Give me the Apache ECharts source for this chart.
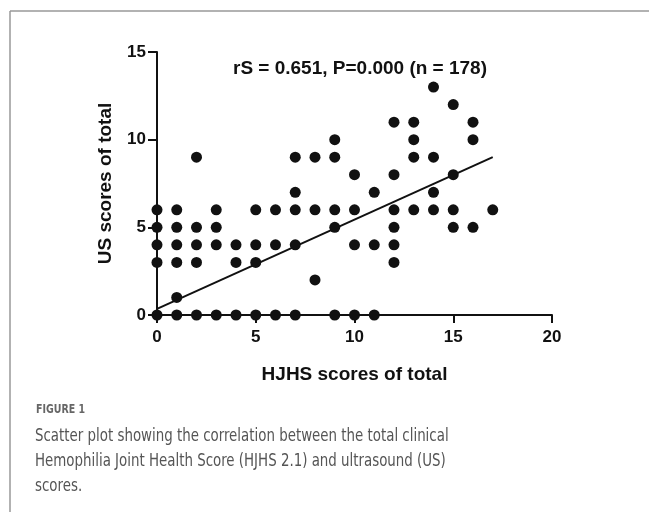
<!DOCTYPE html>
<html>
<head>
<meta charset="utf-8">
<script src="https://cdn.jsdelivr.net/npm/echarts@6/dist/echarts.min.js"></script>
<style>
  * { margin: 0; padding: 0; }
  body { background: #fff; }
</style>
</head>
<body>
<!-- chart container, same size as the figure -->
<div id="main" style="width: 649px;height: 515px;"></div>
<script>
// HJHS score (x) -> list of US scores (y) seen at that x
var hjhsScores = [0, 1, 2, 3, 4, 5, 6, 7, 8, 9, 10, 11, 12, 13, 14, 15, 16, 17];
var usScores = [
  [0, 3, 4, 5, 6],
  [0, 1, 3, 4, 5, 6],
  [0, 3, 4, 5, 9],
  [0, 4, 5, 6],
  [0, 3, 4],
  [0, 3, 4, 6],
  [0, 4, 6],
  [0, 4, 6, 7, 9],
  [2, 6, 9],
  [0, 5, 6, 9, 10],
  [0, 4, 6, 8],
  [0, 4, 7],
  [3, 4, 5, 6, 8, 11],
  [6, 9, 10, 11],
  [6, 7, 9, 13],
  [5, 6, 8, 12],
  [5, 10, 11],
  [6]
];
// fitted line ends
var fitX = [0, 17];
var fitY = [0.35, 9.0];
var xTicks = [0, 5, 10, 15, 20];
var yTicks = [0, 5, 10, 15];

var statText = "rS = 0.651, P=0.000 (n = 178)";
var figLabel = "FIGURE 1";
var captionLines = [
  "Scatter plot showing the correlation between the total clinical",
  "Hemophilia Joint Health Score (HJHS 2.1) and ultrasound (US)",
  "scores."
];

var points = [];
for (var i = 0; i < hjhsScores.length; i++) {
  for (var j = 0; j < usScores[i].length; j++) {
    points.push([hjhsScores[i], usScores[i][j]]);
  }
}
var fitLine = [];
for (var k = 0; k < fitX.length; k++) {
  fitLine.push([fitX[k], fitY[k]]);
}

var boldFont = "Liberation Sans, Arial";
var nameFont = { fontFamily: boldFont, fontWeight: "bold", fontSize: 19, color: "#111" };
var capFont = "Liberation Sans Narrow, DejaVu Sans Condensed, Arial";

var graphics = [
  { type: "line", shape: { x1: 10, y1: 11, x2: 649, y2: 11 }, style: { stroke: "#999", lineWidth: 1.5 } },
  { type: "line", shape: { x1: 10, y1: 11, x2: 10, y2: 512 }, style: { stroke: "#999", lineWidth: 1.5 } },
  {
    type: "text",
    style: { x: 360, y: 69, text: statText, align: "center", verticalAlign: "middle",
      fontFamily: boldFont, fontWeight: "bold", fontSize: 19, fill: "#111" }
  },
  {
    type: "text", x: 36, y: 410, scaleX: 0.875,
    style: { x: 0, y: 0, text: figLabel, align: "left", verticalAlign: "middle",
      fontFamily: capFont, fontWeight: "bold", fontSize: 12, fill: "#666" }
  }
];
for (var c = 0; c < captionLines.length; c++) {
  graphics.push({
    type: "text", x: 35, y: 437 + c * 25, scaleX: 0.875,
    style: { x: 0, y: 0, text: captionLines[c], align: "left", verticalAlign: "middle",
      fontFamily: capFont, fontSize: 17, fill: "#555" }
  });
}

var opinion = {
  animation: false,
  grid: { left: 157, right: 97, top: 52, bottom: 200, containLabel: false },
  xAxis: {
    type: "value", min: xTicks[0], max: xTicks[xTicks.length - 1], interval: 5,
    name: "HJHS scores of total", nameLocation: "middle", nameGap: 50,
    nameTextStyle: nameFont,
    axisLine: { show: true, lineStyle: { color: "#111", width: 2 } },
    axisTick: { show: true, length: 8, lineStyle: { color: "#111", width: 2 } },
    axisLabel: { margin: 14, fontFamily: boldFont, fontWeight: "bold", fontSize: 17, color: "#111" },
    splitLine: { show: false }
  },
  yAxis: {
    type: "value", min: yTicks[0], max: yTicks[yTicks.length - 1], interval: 5,
    name: "US scores of total", nameLocation: "middle", nameGap: 42, nameRotate: 90,
    nameTextStyle: nameFont,
    axisLine: { show: true, lineStyle: { color: "#111", width: 2 } },
    axisTick: { show: true, length: 9, lineStyle: { color: "#111", width: 2 } },
    axisLabel: { margin: 11, fontFamily: boldFont, fontWeight: "bold", fontSize: 17, color: "#111" },
    splitLine: { show: false }
  },
  graphic: graphics,
  series: [
    {
      name: "fit",
      type: "line",
      data: fitLine,
      symbol: "none",
      silent: true,
      lineStyle: { color: "#111", width: 2 },
      z: 3
    },
    {
      name: "scores",
      type: "scatter",
      data: points,
      symbol: "circle",
      symbolSize: 11,
      itemStyle: { color: "#111", opacity: 1 },
      z: 4
    }
  ]
};

var charts = echarts.init(document.getElementById("main"));
charts.setOption(opinion);
</script>
</body>
</html>
